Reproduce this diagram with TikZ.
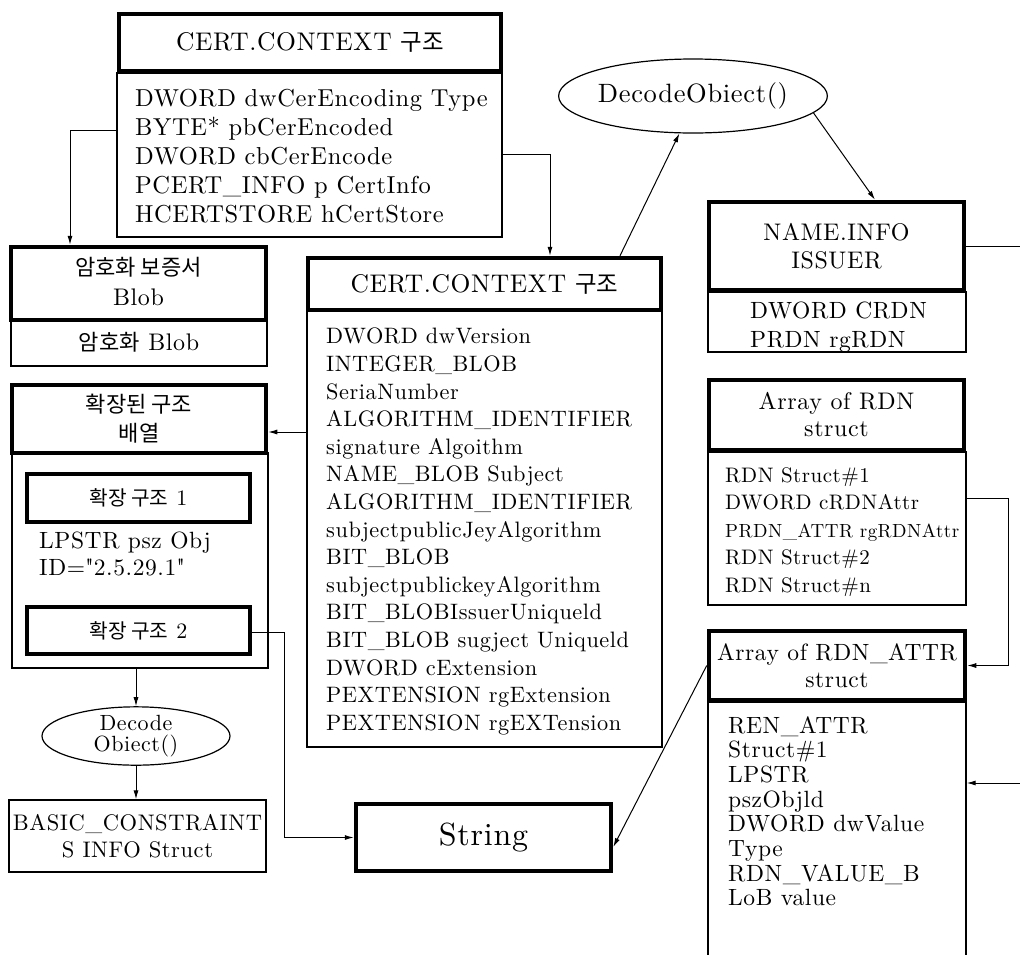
\documentclass[tikz,border=0pt]{standalone}
\usepackage{fontspec}
\setmainfont{lmroman10-regular.otf}[LetterSpace=2.5]
\newfontfamily\kr[Scale=0.92]{Noto Sans CJK KR}
\usetikzlibrary{arrows.meta,shapes.geometric,fit}
\newcommand\myfs[2]{\fontsize{#1}{#2}\selectfont}
\begin{document}
\begin{tikzpicture}[x=1pt,y=-1pt,
  hdr/.style={draw,line width=4.5pt,inner sep=0pt},
  bod/.style={draw,line width=1.3pt,inner sep=0pt},
  lbl/.style={inner sep=0pt,align=center,font=\myfs{24}{28}},
  txt/.style={anchor=north west,inner sep=0pt,align=left},
  ell/.style={draw,ellipse,line width=1.2pt,inner sep=0pt,align=center},
  arr/.style={-{Latex[length=9pt,width=5pt]},line width=1pt}]
\useasboundingbox[fill=white] (0,0) rectangle (1020,954);

% top CERT.CONTEXT
\node[bod,fit={(117,73)(502,237)}] (tbb) {};
\node[hdr,fit={(119,14)(501,71)}] (tbh) {};
\node[lbl,font=\myfs{25.5}{30}] (tbhl) at (tbh.center) {CERT.CONTEXT {\kr 구조}};
\node[txt,font=\myfs{24.5}{29}] (tbt) at (135,89) {DWORD dwCerEncoding Type\\BYTE* pbCerEncoded\\DWORD cbCerEncode\\PCERT\_INFO p CertInfo\\HCERTSTORE hCertStore};

% 암호화 보증서 Blob
\node[bod,fit={(11,320)(267,366)}] (amb) {};
\node[lbl] (ambl) at ([yshift=1pt]amb.center) {{\kr 암호화} Blob};
\node[hdr,fit={(11,247)(266,320)}] (amh) {};
\node[lbl,font=\myfs{24}{30}] (amhl) at ([yshift=2pt]amh.center) {{\kr 암호화 보증서}\\Blob};

% 확장된 구조 배열
\node[bod,fit={(12,453)(268,668)}] (exb) {};
\node[hdr,fit={(12,385)(266,453)}] (exh) {};
\node[lbl,font=\myfs{24}{29}] (exhl) at (exh.center) {{\kr 확장된 구조}\\{\kr 배열}};
\node[hdr,line width=4pt,fit={(27,474)(250,522)}] (ex1) {};
\node[lbl,font=\myfs{22}{26}] (ex1l) at (ex1.center) {{\kr 확장 구조} 1};
\node[txt,font=\myfs{23.5}{27}] (ext) at (39,532) {LPSTR psz Obj\\ID=\textquotedbl 2.5.29.1\textquotedbl};
\node[hdr,line width=4pt,fit={(27,607)(250,654)}] (ex2) {};
\node[lbl,font=\myfs{22}{26}] (ex2l) at (ex2.center) {{\kr 확장 구조} 2};

\node[ell,minimum width=188pt,minimum height=55pt,font=\myfs{22}{20.5}] (el1) at (136,736) {Decode\\Obiect()};
\node[bod,fit={(9,800)(266,872)}] (bas) {};
\node[lbl,font=\myfs{22.5}{27}] (basl) at (bas.center) {BASIC\_CONSTRAINT\\S INFO Struct};

\node[hdr,fit={(356,804)(611,871)}] (str) {};
\node[lbl,font=\myfs{32}{34}] (strl) at (str.center) {String};

% second CERT.CONTEXT
\node[bod,fit={(307,310)(662,747)}] (c2b) {};
\node[hdr,fit={(308,258)(661,310)}] (c2h) {};
\node[lbl,font=\myfs{25.5}{30}] (c2hl) at (c2h.center) {CERT.CONTEXT {\kr 구조}};
\node[txt,font=\myfs{22.3}{27.6}] (c2t) at (326,328) {DWORD dwVersion\\INTEGER\_BLOB\\SeriaNumber\\ALGORITHM\_IDENTIFIER\\signature Algoithm\\NAME\_BLOB Subject\\ALGORITHM\_IDENTIFIER\\subjectpublicJeyAlgorithm\\BIT\_BLOB\\subjectpublickeyAlgorithm\\BIT\_BLOBIssuerUniqueld\\BIT\_BLOB sugject Uniqueld\\DWORD cExtension\\PEXTENSION rgExtension\\PEXTENSION rgEXTension};

\node[ell,minimum width=227pt,minimum height=74pt,font=\myfs{26.5}{28}] (el2) at (693,96) {DecodeObiect()};

% NAME.INFO
\node[bod,fit={(708,292)(966,352)}] (nib) {};
\node[hdr,fit={(709,202)(964,290)}] (nih) {};
\node[lbl,font=\myfs{24}{28}] (nihl) at (nih.center) {NAME.INFO\\ISSUER};
\node[txt,font=\myfs{23.5}{29}] (nit) at (750,302) {DWORD CRDN\\PRDN rgRDN};

% Array of RDN
\node[bod,fit={(708,452)(966,605)}] (rbb) {};
\node[hdr,fit={(709,380)(964,450)}] (rbh) {};
\node[lbl,font=\myfs{24}{27}] (rbhl) at (rbh.center) {Array of RDN\\struct};
\node[txt,font=\myfs{21}{27.5}] (rbt) at (725,467) {RDN Struct\#1\\DWORD cRDNAttr\\{\myfs{19}{27.5}PRDN\_ATTR rgRDNAttr}\\RDN Struct\#2\\RDN Struct\#n};

% Array of RDN_ATTR
\node[bod,fit={(708,702)(966,990)}] (rab) {};
\node[hdr,fit={(709,631)(965,700)}] (rah) {};
\node[lbl,font=\myfs{23.5}{27}] (rahl) at (rah.center) {Array of RDN\_ATTR\\struct};
\node[txt,font=\myfs{23.5}{24.7}] (rat) at (728,716) {REN\_ATTR\\Struct\#1\\LPSTR\\pszObjld\\DWORD dwValue\\Type\\RDN\_VALUE\_B\\LoB value};

% connectors
\coordinate (p1) at (70,130);
\coordinate (p2) at (550,154);
\coordinate (p3) at (0,432);
\coordinate (p4) at (284,632);
\coordinate (p5) at (620,0);
\coordinate (p6) at (875,0);
\coordinate (p7) at (1008,498);
\coordinate (p8) at (0,847);
\coordinate (e1) at (1020,0);
\coordinate (e2) at (1020,783);

\draw[arr] (tbb.west |- p1) -- (p1) -- (amh.north -| p1);
\draw[arr] (tbb.east |- p2) -- (p2) -- (c2h.north -| p2);
\draw[arr] (c2b.west |- p3) -- (exh.east |- p3);
\draw[arr] (el1.north |- exb.south) -- (el1.north);
\draw[arr] (el1.south) -- (bas.north -| el1.south);
\draw[arr] (ex2.east |- p4) -- (p4) -- (p4 |- str.west) -- (str.west);
\draw[arr] (c2h.north -| p5) -- (el2.250);
\draw[arr] (el2.-8) -- (nih.north -| p6);
\draw (nih.east) -- (nih.east -| e1);
\draw[arr] (rbb.east |- p7) -- (p7) -- (p7 |- rah.east) -- (rah.east);
\draw[arr] (rah.west) -- (str.east |- p8);
\draw[arr] (e2) -- (rab.east |- e2);
\end{tikzpicture}
\end{document}
